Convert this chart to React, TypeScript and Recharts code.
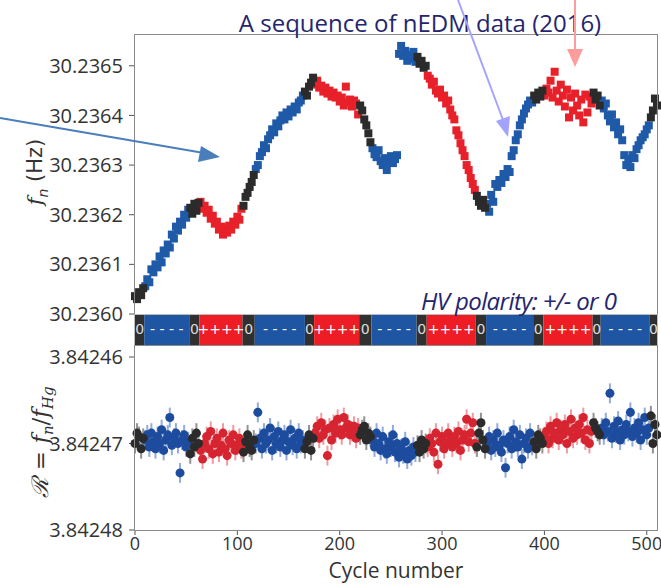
import React from 'react';
import { ScatterChart, Scatter, XAxis, YAxis, ZAxis, ErrorBar, ReferenceArea, Label } from 'recharts';

// one point every 2 cycles
const CYCLE_STEP = 2;

// HV polarity sequence (cycle boundaries) and the polarity of each block
const hvBounds = [0, 9, 53, 63, 105, 117, 166, 175, 219, 231, 275, 285, 333, 343, 389, 399, 447, 455, 503, 510];
const hvPolarity = ['0', '-', '0', '+', '0', '-', '0', '+', '0', '-', '0', '+', '0', '-', '0', '+', '0', '-', '0'];
const hvText: Record<string, string> = { '0': '0', '-': '- - - -', '+': '++++' };

// f_n, in 1e-6 Hz above 30.2360 Hz
const fnOffset = [
  36, 30, 44, 38, 52,
  56, 70, 64, 90, 84, 100, 94, 116, 104, 128, 122, 140, 134, 160, 152, 176, 168, 186, 180, 200, 194, 210,
  214, 202, 222, 208, 224,
  226, 212, 218, 204, 210, 192, 198, 182, 186, 170, 176, 160, 172, 164, 178, 170, 186, 180, 196, 190, 212,
  218, 236, 244, 256, 266, 280,
  292, 300, 318, 326, 340, 334, 352, 360, 372, 366, 384, 378, 390, 400, 392, 406, 398, 412, 406, 418, 412, 426, 430, 440,
  448, 440, 458, 466, 476,
  462, 470, 456, 460, 448, 456, 444, 450, 438, 446, 436, 440, 428, 436, 420, 458, 426, 432, 418, 430, 424, 402,
  420, 410, 392, 380, 364, 346,
  334, 322, 316, 330, 308, 300, 314, 290, 306, 318, 304, 312, 320, 524, 540, 520, 530, 510, 522, 514, 528, 508,
  518, 504, 510, 496, 500,
  480, 474, 462, 468, 450, 444, 452, 436, 440, 424, 430, 412, 400, 392, 370, 360, 344, 330, 318, 300, 290, 274, 262, 250,
  238, 226, 218, 230, 214,
  222, 206, 240, 226, 262, 256, 270, 264, 282, 276, 292, 286, 318, 330, 350, 362, 380, 392, 404, 414, 422, 430, 426,
  440, 432, 446, 438, 450,
  440, 454, 446, 470, 436, 488, 450, 428, 462, 440, 418, 452, 396, 436, 410, 444, 420, 400, 432, 386, 442, 406, 438, 424,
  446, 432, 440, 420,
  430, 414, 424, 400, 388, 402, 376, 386, 362, 372, 350, 320, 300, 312, 296, 320, 314, 332, 340, 350, 356, 362, 372, 380,
  396, 410, 434, 420,
];

// R = f_n / f_Hg, in 1e-8 above 3.84246
const ratioOffset = [
  1000, 880, 920, 1060, 940,
  960, 900, 1040, 880, 980, 1060, 920, 1000, 840, 1080, 960, 900, 700, 1020, 940, 880, 1000, 1340, 960, 900, 1040, 980,
  1120, 940, 1040, 880, 1000,
  1080, 1180, 1000, 920, 1060, 860, 1120, 1000, 940, 1100, 1020, 880, 1060, 1140, 960, 1000, 900, 1080, 1020, 940, 1060,
  1100, 980, 900, 1040, 1080, 960,
  1000, 640, 940, 1060, 880, 1000, 960, 820, 1080, 920, 1000, 860, 1040, 960, 900, 1080, 980, 840, 1020, 940, 1060, 880, 1000, 960,
  1060, 980, 900, 1080, 940,
  880, 800, 940, 760, 900, 840, 1140, 820, 960, 780, 880, 720, 840, 900, 700, 820, 780, 900, 860, 800, 940, 820,
  900, 840, 800, 960, 880, 920,
  960, 1040, 880, 1000, 1080, 920, 1060, 1120, 980, 1040, 900, 1100, 1000, 1160, 1060, 1120, 980, 1180, 1080, 1140, 1040, 1100,
  1020, 1100, 960, 1060, 1000,
  1040, 940, 1000, 1100, 880, 1240, 980, 920, 1060, 1000, 880, 960, 1040, 920, 1000, 860, 1080, 960, 900, 720, 980, 880, 760, 1000,
  1040, 880, 760, 960, 1060,
  1000, 920, 1080, 960, 1040, 880, 1020, 1100, 960, 1280, 1000, 920, 1060, 840, 980, 1040, 900, 1180, 1000, 940, 1060, 880, 1020,
  980, 1060, 900, 940, 1000,
  920, 860, 1000, 800, 940, 880, 760, 960, 840, 900, 780, 1000, 860, 720, 940, 820, 900, 780, 880, 700, 960, 840, 1000, 860,
  760, 820, 860, 900,
  820, 900, 760, 860, 420, 940, 800, 880, 740, 960, 840, 900, 780, 860, 640, 920, 820, 880, 760, 960, 840, 700, 900, 820,
  680, 1000, 780, 900,
];
const ratioErr = 115;

const topColors: Record<string, string> = { '0': '#2b2b2b', '-': '#1f5aa8', '+': '#e8202a' };
const botColors: Record<string, string> = { '0': '#2b2b2b', '-': '#1d4c9f', '+': '#d62430' };
const barColors: Record<string, string> = { '0': '#303030', '-': '#1f56a3', '+': '#ee1c25' };
const errColors: Record<string, string> = { '0': 'rgba(40,40,40,0.5)', '-': 'rgba(40,90,180,0.5)', '+': 'rgba(220,60,70,0.5)' };

const polarityAt = (c: number) => {
  for (let i = 0; i < hvPolarity.length; i++) {
    if (c >= hvBounds[i] && c < hvBounds[i + 1]) return hvPolarity[i];
  }
  return hvPolarity[hvPolarity.length - 1];
};

const topPoints = fnOffset.map((v, i) => ({ cycle: i * CYCLE_STEP, v, pol: polarityAt(i * CYCLE_STEP) }));
const botPoints = ratioOffset.map((v, i) => ({ cycle: i * CYCLE_STEP, v, err: ratioErr, pol: polarityAt(i * CYCLE_STEP) }));
const pols = ['-', '+', '0'];

// the polarity band sits just below 30.2360 on the upper axis
const BAND_LOW = -62.4;

const tickStyle = { fill: '#333', fontSize: 20, fontFamily: 'Open Sans' };
const xTickStyle = { fill: '#333', fontSize: 18, fontFamily: 'Open Sans' };
const navy = '#25256f';

export default function App() {
  return (
    <div style={{ position: 'absolute', left: 0, top: 0, width: 661, height: 584, background: '#fff', fontFamily: 'Open Sans' }}>
      {/* upper panel: f_n, with HV polarity band underneath */}
      <div style={{ position: 'absolute', left: 0, top: 0 }}>
        <ScatterChart width={661} height={345} margin={{ top: 35, right: 4, bottom: 0, left: 0 }}>
          <XAxis type="number" dataKey="cycle" domain={[0, 510]} hide />
          <YAxis type="number" dataKey="v" domain={[BAND_LOW, 562]} ticks={[0, 100, 200, 300, 400, 500]} width={135}
            axisLine={false} tickLine={{ stroke: '#555' }} tickSize={6} tickMargin={6} tick={tickStyle}
            tickFormatter={(v: number) => (30.236 + v * 1e-6).toFixed(4)} />
          <ZAxis range={[20, 20]} />
          {hvPolarity.map((p, i) => (
            <ReferenceArea key={i} x1={hvBounds[i]} x2={hvBounds[i + 1]} y1={BAND_LOW} y2={0} fill={barColors[p]} fillOpacity={1} stroke="none"
              label={{ value: hvText[p], position: 'center', fill: p === '0' ? '#ddd' : '#fff', fontSize: 14, fontFamily: 'DejaVu Sans' }} />
          ))}
          {pols.map((p) => (
            <Scatter key={p} data={topPoints.filter((d) => d.pol === p)} fill={topColors[p]} shape="square" isAnimationActive={false} />
          ))}
        </ScatterChart>
      </div>

      {/* lower panel: R = f_n / f_Hg */}
      <div style={{ position: 'absolute', left: 0, top: 0 }}>
        <ScatterChart width={661} height={584} margin={{ top: 345, right: 4, bottom: 0, left: 0 }}>
          <XAxis type="number" dataKey="cycle" domain={[0, 510]} ticks={[0, 100, 200, 300, 400, 500]} height={54}
            axisLine={false} tickLine={{ stroke: '#555' }} tickSize={5} tickMargin={2} tick={xTickStyle}>
            <Label value="Cycle number" position="insideBottom" offset={6} style={{ fill: '#333', fontSize: 21, fontFamily: 'Open Sans' }} />
          </XAxis>
          <YAxis type="number" dataKey="v" domain={[-139, 2000]} reversed ticks={[0, 1000, 2000]} width={135}
            axisLine={false} tickLine={{ stroke: '#555' }} tickSize={6} tickMargin={6} tick={tickStyle}
            tickFormatter={(v: number) => (3.84246 + v * 1e-8).toFixed(5)} />
          <ZAxis range={[40, 40]} />
          {pols.map((p) => (
            <Scatter key={p} data={botPoints.filter((d) => d.pol === p)} fill={botColors[p]} shape="circle" isAnimationActive={false}>
              <ErrorBar dataKey="err" direction="y" width={0} stroke={errColors[p]} strokeWidth={2} />
            </Scatter>
          ))}
        </ScatterChart>
      </div>

      {/* frames */}
      <div style={{ position: 'absolute', left: 134, top: 34, width: 524, height: 281, border: '1.5px solid #8a8a8a', boxSizing: 'border-box' }} />
      <div style={{ position: 'absolute', left: 134, top: 314, width: 524, height: 32, border: '1px solid #bbb', boxSizing: 'border-box' }} />
      <div style={{ position: 'absolute', left: 134, top: 345, width: 524, height: 186, border: '1.5px solid #8a8a8a', boxSizing: 'border-box' }} />

      {/* axis titles */}
      <div style={{ position: 'absolute', left: 37, top: 172, transform: 'translate(-50%,-50%) rotate(-90deg)', whiteSpace: 'nowrap', fontSize: 21, color: '#333', fontFamily: 'DejaVu Sans' }}>
        <i style={{ fontFamily: 'DejaVu Serif' }}>f</i><sub style={{ fontSize: 14 }}><i>n</i></sub> (Hz)
      </div>
      <div style={{ position: 'absolute', left: 40, top: 442, transform: 'translate(-50%,-50%) rotate(-90deg)', whiteSpace: 'nowrap', fontSize: 23, color: '#333', fontFamily: 'DejaVu Serif' }}>
        <i>ℛ</i> = <i>f</i><sub style={{ fontSize: 15 }}><i>n</i></sub>/<i>f</i><sub style={{ fontSize: 15 }}><i>Hg</i></sub>
      </div>

      {/* slide annotations */}
      <div style={{ position: 'absolute', left: 420, top: 22, transform: 'translate(-50%,-50%)', whiteSpace: 'nowrap', fontSize: 24, color: navy }}>
        A sequence of nEDM data (2016)
      </div>
      <div style={{ position: 'absolute', left: 421, top: 300, transform: 'translateY(-50%)', whiteSpace: 'nowrap', fontSize: 24, letterSpacing: -0.6, fontStyle: 'italic', color: navy }}>
        HV polarity: +/- or 0
      </div>
      <svg width={661} height={584} style={{ position: 'absolute', left: 0, top: 0, pointerEvents: 'none' }}>
        <line x1={0} y1={118} x2={204} y2={153} stroke="#4a7ebb" strokeWidth={2} />
        <polygon points="220,157 201,146 198,162" fill="#4a7ebb" />
        <line x1={458} y1={0} x2={503} y2={120} stroke="#a3a3ff" strokeWidth={2} />
        <polygon points="508,137 496,121 510,116" fill="#a3a3ff" />
        <line x1={575} y1={0} x2={575} y2={50} stroke="#ff9c9c" strokeWidth={2} />
        <polygon points="575,67 567,49 583,49" fill="#ff9c9c" />
      </svg>
    </div>
  );
}
